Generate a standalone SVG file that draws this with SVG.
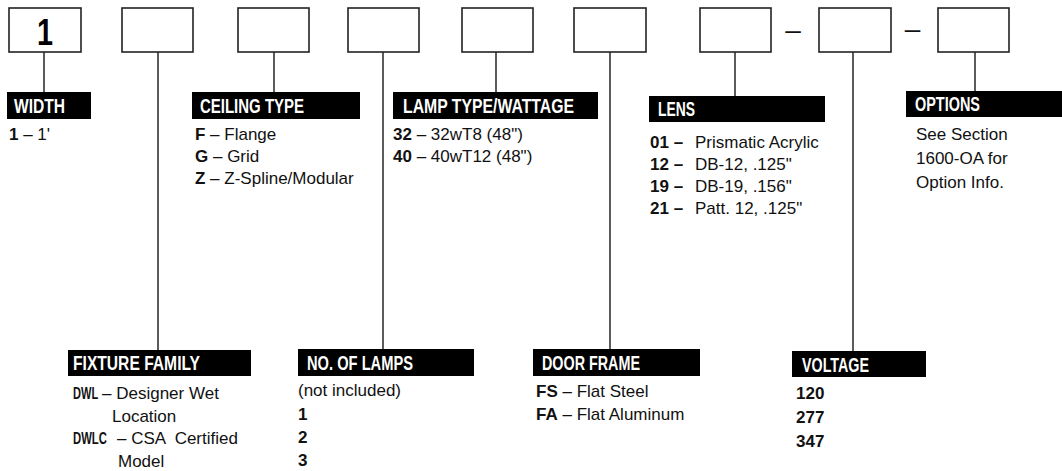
<svg xmlns="http://www.w3.org/2000/svg" width="1062" height="471" viewBox="0 0 1062 471">
<style>
.box{fill:#fff;stroke:#222;stroke-width:1.6}
.con line{stroke:#333;stroke-width:1.6}
.hdr{fill:#000}
.ht{fill:#fff;font-family:"Liberation Sans",Arial,sans-serif;font-weight:bold;font-size:20px}
.t{fill:#111;font-family:"Liberation Sans",Arial,sans-serif;font-size:17px}
.b{font-weight:bold}
</style>
<rect width="1062" height="471" fill="#fff"/>
<g id="connectors" class="con">
<line x1="44" y1="52" x2="44" y2="92"/>
<line x1="158" y1="52" x2="158" y2="350"/>
<line x1="274" y1="52" x2="274" y2="92"/>
<line x1="383" y1="52" x2="383" y2="349"/>
<line x1="496" y1="52" x2="496" y2="92"/>
<line x1="610" y1="52" x2="610" y2="349"/>
<line x1="735" y1="52" x2="735" y2="96"/>
<line x1="853" y1="52" x2="853" y2="351"/>
<line x1="975" y1="52" x2="975" y2="91"/>
</g>
<g id="box-width"><rect class="box" x="9" y="8" width="72" height="44"/><text x="45" y="45" text-anchor="middle" font-family="Liberation Sans,Arial,sans-serif" font-weight="bold" font-size="36" textLength="16" lengthAdjust="spacingAndGlyphs">1</text></g>
<g id="box-family"><rect class="box" x="122" y="8" width="71" height="44"/></g>
<g id="box-ceiling"><rect class="box" x="238" y="8" width="71" height="44"/></g>
<g id="box-lamps"><rect class="box" x="348" y="8" width="71" height="44"/></g>
<g id="box-lamptype"><rect class="box" x="462" y="8" width="71" height="44"/></g>
<g id="box-door"><rect class="box" x="574" y="8" width="72" height="44"/></g>
<g id="box-lens"><rect class="box" x="700" y="8" width="71" height="44"/></g>
<text x="793" y="38.5" text-anchor="middle" font-family="Liberation Sans,Arial,sans-serif" font-size="28" fill="#111">–</text>
<g id="box-voltage"><rect class="box" x="819" y="8" width="72" height="44"/></g>
<text x="912.5" y="37.5" text-anchor="middle" font-family="Liberation Sans,Arial,sans-serif" font-size="28" fill="#111">–</text>
<g id="box-options"><rect class="box" x="938" y="8" width="71" height="44"/></g>

<g id="width">
<rect class="hdr" x="7" y="92" width="84" height="27"/>
<text class="ht" x="14" y="112.5" textLength="51" lengthAdjust="spacingAndGlyphs">WIDTH</text>
<text class="t" x="9" y="140"><tspan class="b">1</tspan> – 1'</text>
</g>
<g id="ceiling-type">
<rect class="hdr" x="192" y="92" width="168" height="27"/>
<text class="ht" x="200" y="112.5" textLength="104" lengthAdjust="spacingAndGlyphs">CEILING TYPE</text>
<text class="t" x="195" y="140"><tspan class="b">F</tspan> – Flange</text>
<text class="t" x="195" y="162"><tspan class="b">G</tspan> – Grid</text>
<text class="t" x="195" y="184"><tspan class="b">Z</tspan> – Z-Spline/Modular</text>
</g>
<g id="lamp-type">
<rect class="hdr" x="393" y="92" width="205" height="27"/>
<text class="ht" x="403" y="112.5" textLength="171" lengthAdjust="spacingAndGlyphs">LAMP TYPE/WATTAGE</text>
<text class="t" x="393" y="140"><tspan class="b">32</tspan> – 32wT8 (48")</text>
<text class="t" x="393" y="162"><tspan class="b">40</tspan> – 40wT12 (48")</text>
</g>
<g id="lens">
<rect class="hdr" x="649" y="96" width="176" height="26"/>
<text class="ht" x="658" y="116" textLength="37" lengthAdjust="spacingAndGlyphs">LENS</text>
<text class="t" x="650" y="148"><tspan class="b">01 –</tspan><tspan x="695">Prismatic Acrylic</tspan></text>
<text class="t" x="650" y="170"><tspan class="b">12 –</tspan><tspan x="695">DB-12, .125"</tspan></text>
<text class="t" x="650" y="192"><tspan class="b">19 –</tspan><tspan x="695">DB-19, .156"</tspan></text>
<text class="t" x="650" y="214"><tspan class="b">21 –</tspan><tspan x="695">Patt. 12, .125"</tspan></text>
</g>
<g id="options">
<rect class="hdr" x="906" y="91" width="156" height="26"/>
<text class="ht" x="915" y="111" textLength="65" lengthAdjust="spacingAndGlyphs">OPTIONS</text>
<text class="t" x="916" y="140">See Section</text>
<text class="t" x="916" y="164">1600-OA for</text>
<text class="t" x="916" y="188">Option Info.</text>
</g>
<g id="fixture-family">
<rect class="hdr" x="68" y="350" width="183" height="26"/>
<text class="ht" x="73" y="370" textLength="127" lengthAdjust="spacingAndGlyphs">FIXTURE FAMILY</text>
<text class="t b" transform="translate(73,399) scale(0.65,1)" x="0" y="0">DWL</text>
<text class="t" x="102" y="399">– Designer Wet</text>
<text class="t" x="112" y="421.5">Location</text>
<text class="t b" transform="translate(73,444) scale(0.665,1)" x="0" y="0">DWLC</text>
<text class="t" x="117" y="444" xml:space="preserve">– CSA  Certified</text>
<text class="t" x="118" y="466.5">Model</text>
</g>
<g id="no-of-lamps">
<rect class="hdr" x="298" y="349" width="176" height="27"/>
<text class="ht" x="307" y="369.5" textLength="106" lengthAdjust="spacingAndGlyphs">NO. OF LAMPS</text>
<text class="t" x="298" y="396">(not included)</text>
<text class="t b" x="298" y="420">1</text>
<text class="t b" x="298" y="443">2</text>
<text class="t b" x="298" y="466">3</text>
</g>
<g id="door-frame">
<rect class="hdr" x="533" y="349" width="167" height="27"/>
<text class="ht" x="542" y="369.5" textLength="98" lengthAdjust="spacingAndGlyphs">DOOR FRAME</text>
<text class="t" x="536" y="397"><tspan class="b">FS</tspan> – Flat Steel</text>
<text class="t" x="536" y="420"><tspan class="b">FA</tspan> – Flat Aluminum</text>
</g>
<g id="voltage">
<rect class="hdr" x="792" y="351" width="134" height="26"/>
<text class="ht" x="802" y="371.5" textLength="67" lengthAdjust="spacingAndGlyphs">VOLTAGE</text>
<text class="t b" x="796" y="399">120</text>
<text class="t b" x="796" y="423">277</text>
<text class="t b" x="796" y="447">347</text>
</g>
</svg>
